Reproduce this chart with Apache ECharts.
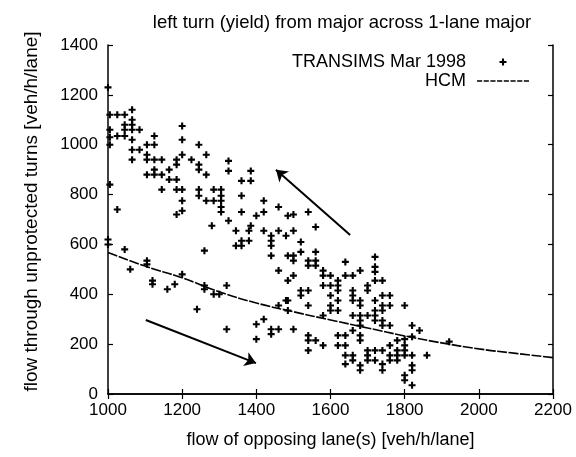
<!DOCTYPE html>
<html><head><meta charset="utf-8">
<script src="https://cdn.jsdelivr.net/npm/echarts@6/dist/echarts.min.js"></script>
<style>html,body{margin:0;padding:0;background:#fff}#c{width:576px;height:457px}</style>
</head><body><div id="c"></div>
<script>
const titleText = 'left turn (yield) from major across 1-lane major';
const xName = 'flow of opposing lane(s) [veh/h/lane]';
const yName = 'flow through unprotected turns [veh/h/lane]';
const xTicks = [1000, 1200, 1400, 1600, 1800, 2000, 2200];
const yTicks = [0, 200, 400, 600, 800, 1000, 1200, 1400];
const seriesNames = ['TRANSIMS Mar 1998', 'HCM'];

const transimsPoints = [
[1000,1230],
[1005,1120],[1025,1120],[1045,1120],[1065,1140],
[1005,1060],[1045,1080],[1065,1100],[1045,1060],[1065,1080],[1065,1060],[1085,1060],
[1005,1030],[1005,1000],[1025,1035],[1045,1035],[1065,1020],[1125,1035],[1105,1000],[1125,1000],
[1065,980],[1085,980],[1065,940],[1105,960],[1105,940],[1125,940],[1145,940],
[1125,900],[1105,880],[1125,880],[1145,880],[1165,900],[1165,860],
[1185,940],[1185,920],[1200,960],[1200,1075],[1200,1020],[1225,940],[1245,1000],[1265,960],[1245,920],[1245,900],[1265,880],
[1185,860],[1145,820],[1185,820],[1200,820],[1200,775],[1185,720],[1200,735],
[1245,820],[1245,795],[1265,775],[1285,775],[1285,820],[1305,820],[1305,795],[1305,775],[1305,750],[1305,730],
[1325,935],[1325,895],[1360,855],[1385,855],[1385,895],[1360,795],[1360,730],[1420,775],[1420,730],[1400,715],[1460,750],[1485,715],
[1005,840],[1025,740],[1280,675],[1325,695],[1385,675],
[1500,720],[1540,730],[1560,670],
[1345,655],[1380,655],[1345,595],[1360,615],[1360,595],[1380,615],[1420,655],[1440,635],[1440,615],[1440,595],[1440,555],[1460,655],[1500,655],[1485,555],[1500,555],[1500,535],[1460,495],[1485,455],[1500,475],[1520,415],[1260,575],
[1000,620],[1000,600],[1045,580],[1105,535],[1105,520],[1060,500],[1120,455],[1120,440],[1160,420],[1180,440],[1200,480],[1260,435],[1260,420],[1285,400],[1300,400],[1320,435],[1240,340],[1320,260],[1400,280],[1420,300],[1400,220],[1440,260],[1440,240],[1460,260],[1500,260],[1460,355],[1485,375],[1485,335],
[1480,635],[1520,610],[1520,570],[1540,535],[1540,515],[1560,535],[1560,515],[1560,570],[1480,375],[1520,395],[1540,415],[1540,355],
[1580,495],[1580,475],[1600,475],[1580,435],[1600,435],[1620,455],[1620,435],[1620,415],[1600,395],[1620,375],[1600,355],[1600,335],[1620,335],[1580,315],
[1640,530],[1640,475],[1660,475],[1680,495],[1660,415],[1660,395],[1660,375],[1680,375],[1680,355],[1700,435],[1700,415],
[1720,550],[1720,510],[1720,490],[1720,455],[1740,455],[1720,375],[1740,395],[1760,395],[1740,355],[1740,335],[1760,355],
[1720,335],[1720,315],[1720,295],[1700,315],[1680,315],[1680,295],[1660,315],[1680,275],[1740,295],[1740,275],[1760,275],
[1660,255],[1680,235],[1680,215],[1640,235],[1620,235],[1640,195],[1620,195],[1580,195],[1540,235],[1540,215],[1540,175],[1560,215],
[1640,155],[1640,120],[1660,155],[1660,135],[1680,115],[1680,95],[1700,175],[1700,155],[1700,135],[1720,175],[1720,135],[1740,175],[1740,120],[1740,95],[1760,155],[1760,135],[1760,195],
[1780,215],[1780,175],[1780,155],[1780,135],[1800,220],[1800,195],[1800,175],[1800,155],[1800,355],[1820,275],[1820,230],[1840,255],[1820,155],[1820,115],[1820,95],[1800,75],[1800,55],[1820,35],[1860,155],[1920,210]
];

const hcmX = [1000, 1100, 1200, 1300, 1400, 1500, 1600, 1700, 1800, 1900, 2000, 2100, 2200];
const hcmY = [568, 513, 466, 410, 365, 330, 297, 265, 233, 205, 181, 163, 146];

// annotation arrows: [fromX, fromY, toX, toY]
const arrowUp = [1653, 638, 1453, 900];
const arrowDown = [1102, 297, 1399, 124];

const FONT = '"Liberation Sans", Arial, sans-serif';
const plusPath = 'path://M3.5,0H6.5V3.5H10V6.5H6.5V10H3.5V6.5H0V3.5H3.5Z';
const dashIconPath = 'path://M0,0H5V1.4H0Z M6.5,0H11.5V1.4H6.5Z M13,0H18V1.4H13Z M19.5,0H24.5V1.4H19.5Z M26,0H31V1.4H26Z M32.5,0H37.5V1.4H32.5Z M39,0H44V1.4H39Z M45.5,0H50.5V1.4H45.5Z';

const chart = echarts.init(document.getElementById('c'), null, {renderer: 'canvas'});

const axisCommon = {min: 1000, max: 2200, interval: 200};
const frameLine = {show: true, lineStyle: {color: '#000', width: 1.5}};
const tickIn = {show: true, inside: true, length: 5, lineStyle: {color: '#000', width: 1.2}};

chart.setOption({
  backgroundColor: '#fff',
  animation: false,
  title: {
    text: titleText, left: 337, top: 8, textAlign: 'center',
    textStyle: {fontFamily: FONT, fontSize: 18.5, fontWeight: 'normal', color: '#000'}
  },
  legend: {
    orient: 'vertical', right: 42, top: 48, align: 'right',
    itemWidth: 52, itemHeight: 7, itemGap: 1,
    textStyle: {fontFamily: FONT, fontSize: 18, color: '#000', padding: [0, 6, 0, 0]},
    data: [
      {name: seriesNames[0], icon: plusPath},
      {name: seriesNames[1], icon: dashIconPath, itemStyle: {color: '#000'}}
    ]
  },
  grid: {left: 108, right: 23, top: 45, bottom: 63},
  xAxis: [
    Object.assign({type: 'value', position: 'bottom',
      name: xName, nameLocation: 'middle', nameGap: 37,
      nameTextStyle: {fontFamily: FONT, fontSize: 18, color: '#000'},
      axisLine: frameLine, axisTick: tickIn, splitLine: {show: false},
      axisLabel: {fontFamily: FONT, fontSize: 17, color: '#000', margin: 8,
        formatter: v => xTicks.includes(v) ? String(v) : ''}
    }, axisCommon),
    Object.assign({type: 'value', position: 'top',
      axisLine: frameLine, axisTick: tickIn, splitLine: {show: false}, axisLabel: {show: false}
    }, axisCommon)
  ],
  yAxis: [
    {type: 'value', min: 0, max: 1400, interval: 200, position: 'left',
      name: yName, nameLocation: 'middle', nameGap: 67,
      nameTextStyle: {fontFamily: FONT, fontSize: 19, color: '#000', padding: [0, 0, 0, 16]},
      axisLine: frameLine, axisTick: tickIn, splitLine: {show: false},
      axisLabel: {fontFamily: FONT, fontSize: 17, color: '#000', margin: 10,
        formatter: v => yTicks.includes(v) ? String(v) : ''}
    },
    {type: 'value', min: 0, max: 1400, interval: 200, position: 'right',
      axisLine: frameLine, axisTick: tickIn, splitLine: {show: false}, axisLabel: {show: false}
    }
  ],
  series: [
    {
      name: seriesNames[0], type: 'scatter',
      symbol: plusPath, symbolSize: 7,
      itemStyle: {color: '#000', opacity: 1},
      data: transimsPoints
    },
    {
      name: seriesNames[1], type: 'line', smooth: true, symbol: 'none',
      lineStyle: {color: '#000', width: 1.6, type: [10, 1.5]},
      itemStyle: {color: '#000'},
      data: hcmX.map((x, i) => [x, hcmY[i]])
    },
    {
      name: 'arrows', type: 'line', data: [], silent: true,
      markLine: {
        silent: true, symbol: ['none', 'arrow'], symbolSize: 11,
        label: {show: false},
        lineStyle: {color: '#000', width: 2, type: 'solid'},
        itemStyle: {color: '#000'},
        data: [
          [{coord: [arrowUp[0], arrowUp[1]]}, {coord: [arrowUp[2], arrowUp[3]]}],
          [{coord: [arrowDown[0], arrowDown[1]]}, {coord: [arrowDown[2], arrowDown[3]]}]
        ]
      }
    }
  ]
});
</script></body></html>
